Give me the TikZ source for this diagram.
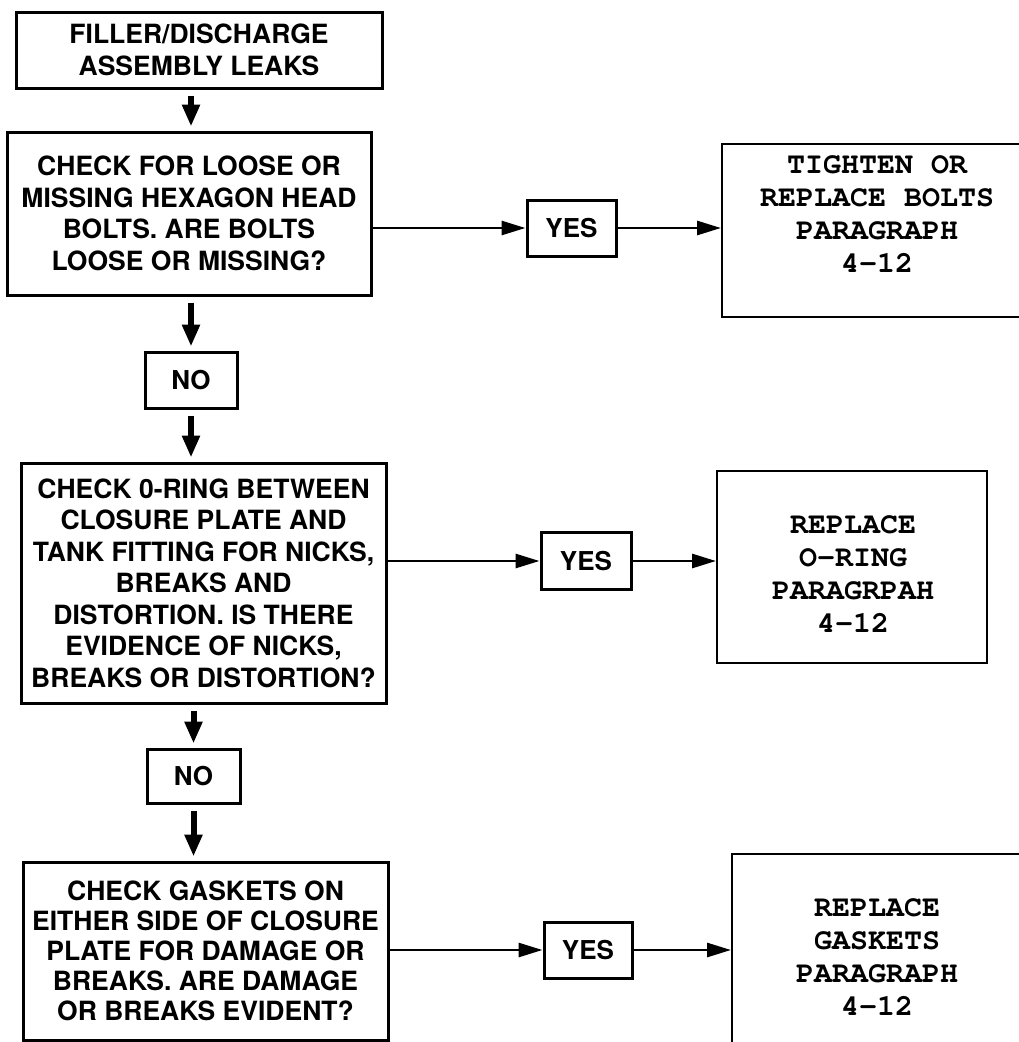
\documentclass[tikz,border=0pt]{standalone}
\usepackage{fontspec}
\setmainfont{TeX Gyre Heros}
\usetikzlibrary{arrows.meta}
% Courier Bold (psnfss) for the action boxes
\newcommand\courierbold{\fontencoding{T1}\fontfamily{pcr}\fontseries{b}\selectfont}

\tikzset{
  decision/.style={draw, line width=3pt, rectangle, inner sep=0pt, align=center,
    font=\fontsize{26.5}{31.5}\selectfont\bfseries},
  answer/.style={draw, line width=3pt, rectangle, inner sep=0pt,
    font=\fontsize{26}{30}\selectfont\bfseries},
  action/.style={draw, line width=2pt, rectangle, inner sep=0pt},
  actiontext/.style={align=center, inner sep=0pt, font=\fontsize{30}{33}\courierbold},
  downarrow/.style={line width=6pt, -{Triangle[length=22pt,width=17pt]},
    shorten <=6pt, shorten >=4pt},
  sidearrow/.style={line width=2.8pt, -{Triangle[length=24pt,width=14pt]}},
}

\begin{document}
\begin{tikzpicture}[x=1pt, y=-1pt]
  \clip (0,0) rectangle (1019,1042);
  \fill[white] (0,0) rectangle (1019,1042);

  % main column of checks
  \node[decision, minimum width=366pt, minimum height=76pt] (leak) at (199,50)
    {FILLER/DISCHARGE\\ASSEMBLY LEAKS};
  \node[decision, minimum width=364pt, minimum height=163pt] (bolts) at (189,213.5)
    {CHECK FOR LOOSE OR\\MISSING HEXAGON HEAD\\BOLTS. ARE BOLTS\\LOOSE OR MISSING?};
  \node[answer, minimum width=92pt, minimum height=56pt] (no1) at (191,380) {NO};
  \node[decision, minimum width=365pt, minimum height=240pt] (oring) at (203.5,583)
    {CHECK 0-RING BETWEEN\\CLOSURE PLATE AND\\TANK FITTING FOR NICKS,\\BREAKS AND\\DISTORTION. IS THERE\\EVIDENCE OF NICKS,\\BREAKS OR DISTORTION?};
  \node[answer, minimum width=93pt, minimum height=54pt] (no2) at (193.5,776) {NO};
  \node[decision, minimum width=365pt, minimum height=178pt,
    font=\fontsize{26.5}{30}\selectfont\bfseries] (gasket) at (205.5,951)
    {CHECK GASKETS ON\\EITHER SIDE OF CLOSURE\\PLATE FOR DAMAGE OR\\BREAKS. ARE DAMAGE\\OR BREAKS EVIDENT?};

  % YES answers
  \node[answer, minimum width=89pt, minimum height=56pt] (yes1) at (571.5,228) {YES};
  \node[answer, minimum width=90pt, minimum height=57pt] (yes2) at (586,561) {YES};
  \node[answer, minimum width=88pt, minimum height=56pt] (yes3) at (588,950) {YES};

  % corrective actions
  \node[action, minimum width=310pt, minimum height=173pt] (tighten) at (877,230.5) {};
  \node[actiontext] (tightentext) at (877,214)
    {TIGHTEN OR\\REPLACE BOLTS\\PARAGRAPH\\4-12};
  \node[action, minimum width=270pt, minimum height=192pt] (replring) at (852,567) {};
  \node[actiontext] (replringtext) at (853,574)
    {REPLACE\\O-RING\\PARAGRPAH\\4-12};
  \node[action, minimum width=290pt, minimum height=216pt] (replgasket) at (877,962) {};
  \node[actiontext] (replgaskettext) at (877,957.5)
    {REPLACE\\GASKETS\\PARAGRAPH\\4-12};

  % downward flow
  \draw[downarrow] (leak.south -| no1.center) -- (bolts.north -| no1.center);
  \draw[downarrow] (bolts.south -| no1.center) -- (no1.north);
  \draw[downarrow] (no1.south) -- (oring.north -| no1.center);
  \draw[downarrow] (oring.south -| no2.center) -- (no2.north);
  \draw[downarrow] (no2.south) -- (gasket.north -| no2.center);

  % YES branches
  \draw[sidearrow] (bolts.east |- yes1.west) -- (yes1.west);
  \draw[sidearrow] (yes1.east) -- (yes1.east -| tighten.west);
  \draw[sidearrow] (oring.east |- yes2.west) -- (yes2.west);
  \draw[sidearrow] (yes2.east) -- (yes2.east -| replring.west);
  \draw[sidearrow] (gasket.east |- yes3.west) -- (yes3.west);
  \draw[sidearrow] (yes3.east) -- (yes3.east -| replgasket.west);
\end{tikzpicture}
\end{document}
